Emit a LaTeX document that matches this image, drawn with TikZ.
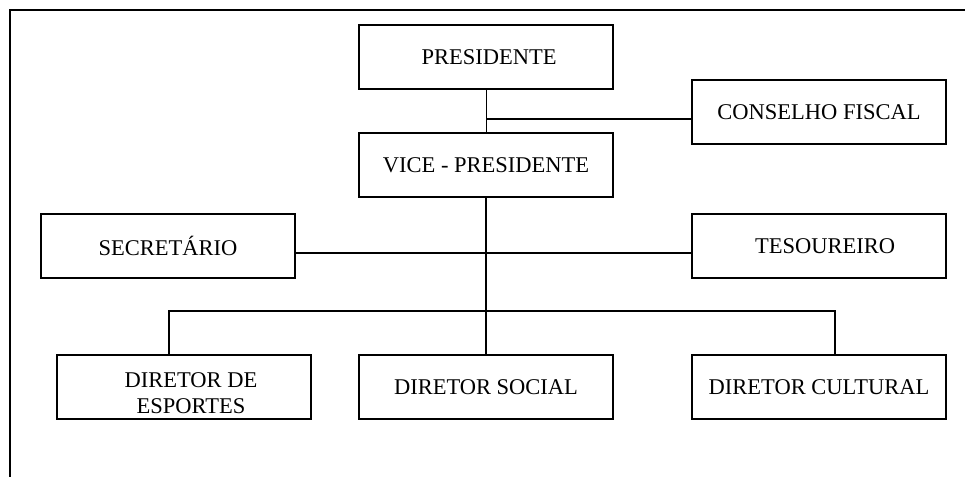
\documentclass[tikz,border=0pt]{standalone}
\usepackage{fontspec}
\setmainfont{Liberation Serif}
\begin{document}
\begin{tikzpicture}[x=0.025cm, y=-0.025cm]
            \tikzstyle{every node}=[rectangle, draw=black, line width=1.4pt, minimum width=6.35cm, minimum height=1.6cm, inner sep=0pt, align=center, font=\fontsize{16}{18.5}\selectfont, text=black]
            \tikzstyle{edge}=[black, line width=1.4pt]
            \tikzstyle{thinedge}=[black, line width=0.7pt]

            \useasboundingbox (0,0) rectangle (965,477);
            \draw[edge] (10,477) -- (10,10) -- (965,10);

            \node (pres) at (486,57) {\hspace{0.15cm}PRESIDENTE};
            \node (cons) at (819,112) {CONSELHO FISCAL};
            \node (vice) at (486,165) {VICE - PRESIDENTE};
            \node (sec) at (168,246) {SECRETÁRIO};
            \node (tes) at (819,246) {\hspace{0.3cm}TESOUREIRO};
            \node (esp) at (184,387) {\hspace{0.35cm}\raisebox{-0.35cm}[0pt][0pt]{\begin{tabular}{@{}c@{}}DIRETOR DE\\ESPORTES\end{tabular}}};
            \node (soc) at (486,387) {DIRETOR SOCIAL};
            \node (cul) at (819,387) {DIRETOR CULTURAL};

            \coordinate (jc) at (486,119);
            \coordinate (js) at (486,253);
            \coordinate (jl) at (169,311);
            \coordinate (jr) at (835,311);

            \draw[thinedge] (pres) -- (vice);
            \draw[edge] (jc) -- (jc -| cons.west);
            \draw[edge] (vice) -- (soc);
            \draw[edge] (js -| sec.east) -- (js -| tes.west);
            \draw[edge] (esp.north -| jl) -- (jl) -- (jr) -- (cul.north -| jr);
        \end{tikzpicture}
\end{document}
